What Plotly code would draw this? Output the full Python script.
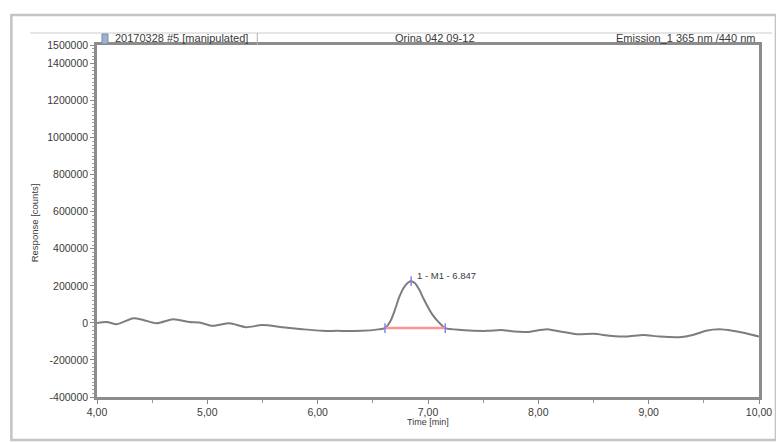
import plotly.graph_objects as go

# ---- data ----
time_min = [4.00, 4.09, 4.18, 4.33, 4.42, 4.54, 4.69, 4.84, 4.93, 5.05, 5.20, 5.35, 5.50,
            5.68, 5.86, 6.04, 6.17, 6.40, 6.55, 6.61,
            6.66, 6.70, 6.74, 6.78, 6.82, 6.847, 6.88, 6.92, 6.96, 7.00, 7.04, 7.08, 7.12, 7.156,
            7.30, 7.54, 7.66, 7.78, 7.90, 8.08, 8.20, 8.35, 8.50, 8.65, 8.80, 8.95, 9.10,
            9.28, 9.40, 9.52, 9.64, 9.76, 9.88, 10.00]
response = [0, 5000, -7000, 25000, 16000, -2000, 20000, 5000, 2000, -16000, -2000, -23000, -12000,
            -23000, -34000, -43000, -43000, -43000, -35000, -28000,
            10000, 70000, 140000, 190000, 218000, 225000, 215000, 180000, 130000, 85000, 45000, 15000, -10000, -28000,
            -38000, -43000, -38000, -47000, -49000, -34000, -47000, -61000, -59000, -69000, -74000, -65000, -74000,
            -77000, -65000, -42000, -34000, -42000, -56000, -74000]

peak_start = 6.61
peak_end = 7.156
peak_baseline = [-28000, -28000]
peak_apex_time = 6.847
peak_apex_value = 225000
peak_label = "1 - M1 - 6.847"

y_tickvals = [1500000, 1400000, 1200000, 1000000, 800000, 600000, 400000, 200000, 0,
              -200000, -400000]
y_ticktext = ["1500000", "1400000", "1200000", "1000000", "800000", "600000", "400000",
              "200000", "0", "-200000", "-400000"]
x_tickvals = [4, 5, 6, 7, 8, 9, 10]
x_ticktext = ["4,00", "5,00", "6,00", "7,00", "8,00", "9,00", "10,00"]

header_left = "20170328 #5 [manipulated]"
header_mid = "Orina 042 09-12"
header_right = "Emission_1 365 nm /440 nm"
x_title = "Time [min]"
y_title = "Response [counts]"

FONT = "Liberation Sans, Arial, sans-serif"
TXT = "#3a3a3a"

# the page body adds an 8px margin; work in window pixels and shift by it
OFF = 8
WIN_W, WIN_H = 784, 443
W, H = WIN_W - OFF, WIN_H - OFF
PLOT_L, PLOT_R, PLOT_T, PLOT_B = 97, 762, 45, 397   # window pixel positions of plot area
L, R, T, B = PLOT_L - OFF, W - (PLOT_R - OFF), PLOT_T - OFF, H - (PLOT_B - OFF)
pw, ph = W - L - R, H - T - B


def px(x):
    return (x - PLOT_L) / pw


def py(y):
    return (PLOT_B - y) / ph


fig = go.Figure()
fig.add_trace(go.Scatter(x=time_min, y=response, mode="lines",
                         line=dict(color="#7d7d7d", width=2, shape="spline", smoothing=0.7),
                         hoverinfo="skip", showlegend=False))
fig.add_trace(go.Scatter(x=[peak_start, peak_end], y=peak_baseline, mode="lines",
                         line=dict(color="#ff9494", width=2.5), showlegend=False))
fig.add_trace(go.Scatter(x=[peak_start, peak_apex_time, peak_end],
                         y=[peak_baseline[0], peak_apex_value, peak_baseline[1]],
                         mode="markers",
                         marker=dict(symbol="line-ns", size=7,
                                     line=dict(color="#7a7aff", width=1.4)),
                         showlegend=False))

fig.update_layout(
    width=W, height=H,
    margin=dict(l=L, r=R, t=T, b=B, pad=0),
    paper_bgcolor="white", plot_bgcolor="white",
    font=dict(family=FONT, size=10.5, color=TXT),
    xaxis=dict(range=[4, 10], tickmode="array", tickvals=x_tickvals, ticktext=x_ticktext,
               ticks="outside", ticklen=4, tickcolor="#8a8a8a", tickwidth=1,
               minor=dict(dtick=0.5, tick0=4, ticks="outside", ticklen=3, tickcolor="#9a9a9a"),
               showline=True, linecolor="#8c8c8c", linewidth=2.5, mirror=True,
               showgrid=False, zeroline=False,
               tickfont=dict(size=10.5, color=TXT, family=FONT)),
    yaxis=dict(range=[-400000, 1500000], tickmode="array", tickvals=y_tickvals, ticktext=y_ticktext,
               ticks="outside", ticklen=4, tickcolor="#8a8a8a", tickwidth=1,
               minor=dict(dtick=20000, tick0=0, ticks="outside", ticklen=2, tickcolor="#a0a0a0"),
               showline=True, linecolor="#8c8c8c", linewidth=2.5, mirror=True,
               showgrid=False, zeroline=False,
               tickfont=dict(size=10.5, color=TXT, family=FONT)),
    shapes=[
        dict(type="rect", xref="paper", yref="paper", x0=px(11), x1=px(779), y0=py(440), y1=py(15),
             line=dict(color="#c4c4c4", width=2.5)),
        dict(type="line", xref="paper", yref="paper", x0=px(30), x1=px(775), y0=py(33), y1=py(33),
             line=dict(color="#cccccc", width=1)),
        dict(type="line", xref="paper", yref="paper", x0=px(258), x1=px(258), y0=py(45), y1=py(33),
             line=dict(color="#b0b0b0", width=1)),
        dict(type="rect", xref="paper", yref="paper", x0=px(102), x1=px(108), y0=py(44), y1=py(34),
             line=dict(color="#6f8aa8", width=1), fillcolor="#9fb4cc"),
    ],
    annotations=[
        dict(text=header_left, xref="paper", yref="paper", x=px(113), y=py(38),
             xanchor="left", yanchor="middle", showarrow=False, font=dict(size=11, color=TXT)),
        dict(text=header_mid, xref="paper", yref="paper", x=px(437), y=py(38),
             xanchor="center", yanchor="middle", showarrow=False, font=dict(size=11, color=TXT)),
        dict(text=header_right, xref="paper", yref="paper", x=px(760), y=py(38),
             xanchor="right", yanchor="middle", showarrow=False, font=dict(size=11, color=TXT)),
        dict(text=x_title, xref="paper", yref="paper", x=px(430), y=py(422),
             xanchor="center", yanchor="middle", showarrow=False, font=dict(size=9, color=TXT)),
        dict(text=y_title, xref="paper", yref="paper", x=px(35), y=py(223), textangle=-90,
             xanchor="center", yanchor="middle", showarrow=False, font=dict(size=9.5, color=TXT)),
        dict(text=peak_label, x=peak_apex_time, y=peak_apex_value, xref="x", yref="y",
             xanchor="left", yanchor="bottom", xshift=4, yshift=-2, showarrow=False,
             font=dict(size=9.5, color=TXT)),
    ],
)

fig.write_html("out.html")
